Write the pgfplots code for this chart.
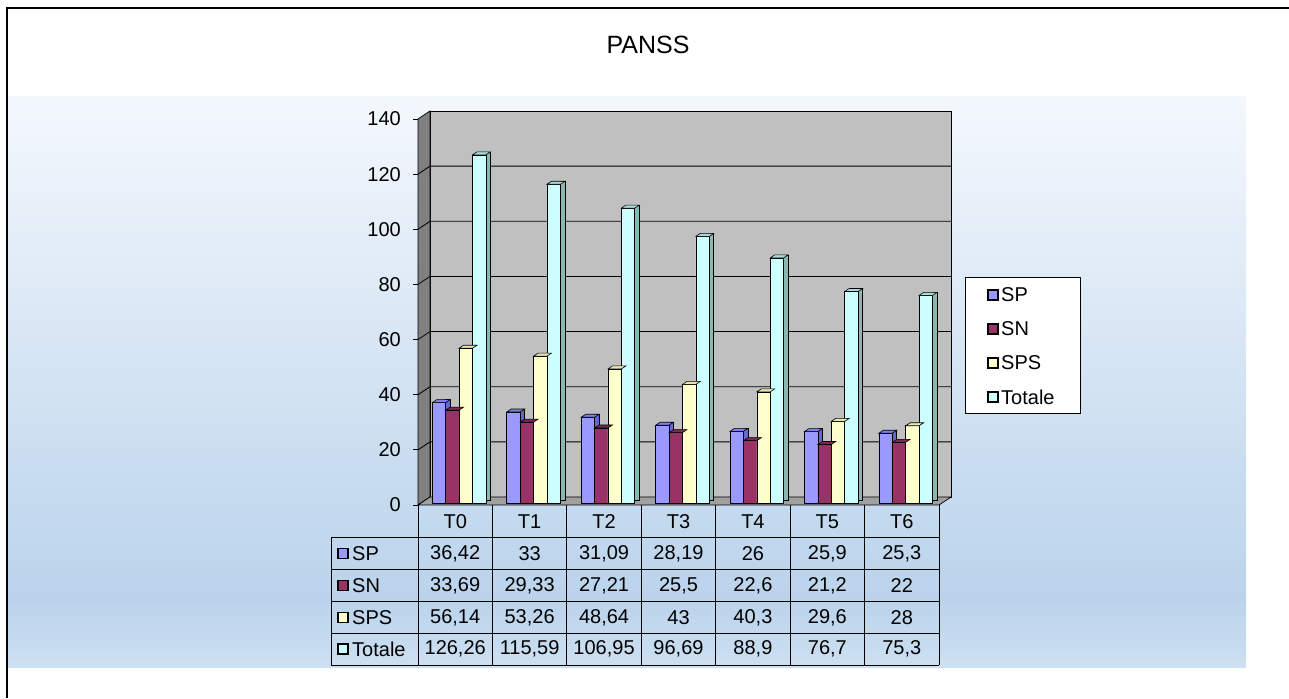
\documentclass[border=0pt]{standalone}
\usepackage{pgfplots}
\pgfplotsset{compat=1.18}
\usepackage{pgfplotstable}
\usepackage{fontspec}
\setmainfont{Liberation Sans}

\definecolor{spF}{HTML}{9999FF}\definecolor{spS}{HTML}{6666CC}\definecolor{spT}{HTML}{8080E6}
\definecolor{snF}{HTML}{993366}\definecolor{snS}{HTML}{662244}\definecolor{snT}{HTML}{7A2952}
\definecolor{psF}{HTML}{FFFFCC}\definecolor{psS}{HTML}{CCCC99}\definecolor{psT}{HTML}{E6E6B0}
\definecolor{toF}{HTML}{CCFFFF}\definecolor{toS}{HTML}{88B8B0}\definecolor{toT}{HTML}{A8DCD8}
\definecolor{bgtop}{HTML}{F4F8FD}\definecolor{bgmid}{HTML}{BAD3EB}\definecolor{bgbot}{HTML}{CEE0F2}
\definecolor{wall}{HTML}{C0C0C0}\definecolor{lwall}{HTML}{808080}\definecolor{floorc}{HTML}{A0A0A0}

\pgfplotstableread{
x SP SN SPS Tot
0 36.42 33.69 56.14 126.26
1 33 29.33 53.26 115.59
2 31.09 27.21 48.64 106.95
3 28.19 25.5 43 96.69
4 26 22.6 40.3 88.9
5 25.9 21.2 29.6 76.7
6 25.3 22 28 75.3
}\panss

\pgfdeclareplotmark{topface}{%
  \pgfpathmoveto{\pgfqpoint{-6.7pt}{0pt}}%
  \pgfpathlineto{\pgfqpoint{6.7pt}{0pt}}%
  \pgfpathlineto{\pgfqpoint{11.2pt}{3pt}}%
  \pgfpathlineto{\pgfqpoint{-2.2pt}{3pt}}%
  \pgfpathclose
  \pgfusepathqfillstroke}

\newcommand{\tfont}{\fontsize{20}{22}\selectfont}

\begin{document}
\begin{tikzpicture}
\path[use as bounding box] (0,0) rectangle (1289pt,698pt);
\begin{scope}[x=1pt,y=-1pt,shift={(0pt,698pt)}]
  % background panel
  \fill[top color=bgtop, bottom color=bgmid] (8,97) rectangle (1246,600.5);
  \fill[top color=bgmid, bottom color=bgbot] (8,600) rectangle (1246,668);
  % frame
  \draw[line width=1.6pt] (7,698) -- (7,8) -- (1289,8);
  % title
  \node[font=\fontsize{25}{28}\selectfont] at (648,45) {PANSS};
  % walls
  \filldraw[fill=wall, draw=black, line width=0.7pt] (430,111) rectangle (951,497);
  \filldraw[fill=lwall, draw=black, line width=0.7pt] (418,505) -- (418,119) -- (430,111) -- (430,497) -- cycle;
  \filldraw[fill=floorc, draw=black, line width=0.7pt] (418,505) -- (939,505) -- (951,497) -- (430,497) -- cycle;
  \foreach \v in {20,40,...,120} {
    \draw[black, line width=0.8pt] (418,{505-\v*2.757143}) -- (430,{497-\v*2.757143}) -- (951,{497-\v*2.757143});
  }
\end{scope}

\begin{axis}[
  at={(418pt,193pt)}, anchor=south west,
  scale only axis, width=521pt, height=386pt,
  xmin=-0.5, xmax=6.5, ymin=0, ymax=140,
  clip=false,
  axis line style={draw=none},
  xtick=\empty,
  ytick={0,20,...,140},
  ytick pos=left,
  tick align=outside,
  major tick length=5pt,
  tick style={black, line width=0.8pt},
  /pgf/number format/assume math mode=true,
  yticklabel style={font=\fontsize{20}{22}\selectfont, inner sep=0pt, xshift=-12pt},
]
% SP
\addplot[ybar, bar width=4.5pt, bar shift=-7.25pt, yshift=5pt, fill=spS, draw=black, line width=0.6pt] table[x=x,y=SP]{\panss};
\addplot[ybar, bar width=13.4pt, bar shift=-16.2pt, yshift=2pt, fill=spF, draw=black, line width=0.6pt] table[x=x,y=SP]{\panss};
\addplot[only marks, mark=topface, xshift=-16.2pt, yshift=2pt, mark options={fill=spT, draw=black, line width=0.6pt}] table[x=x,y=SP]{\panss};
% SN
\addplot[ybar, bar width=4.5pt, bar shift=6.15pt, yshift=5pt, fill=snS, draw=black, line width=0.6pt] table[x=x,y=SN]{\panss};
\addplot[ybar, bar width=13.4pt, bar shift=-2.8pt, yshift=2pt, fill=snF, draw=black, line width=0.6pt] table[x=x,y=SN]{\panss};
\addplot[only marks, mark=topface, xshift=-2.8pt, yshift=2pt, mark options={fill=snT, draw=black, line width=0.6pt}] table[x=x,y=SN]{\panss};
% SPS
\addplot[ybar, bar width=4.5pt, bar shift=19.55pt, yshift=5pt, fill=psS, draw=black, line width=0.6pt] table[x=x,y=SPS]{\panss};
\addplot[ybar, bar width=13.4pt, bar shift=10.6pt, yshift=2pt, fill=psF, draw=black, line width=0.6pt] table[x=x,y=SPS]{\panss};
\addplot[only marks, mark=topface, xshift=10.6pt, yshift=2pt, mark options={fill=psT, draw=black, line width=0.6pt}] table[x=x,y=SPS]{\panss};
% Totale
\addplot[ybar, bar width=4.5pt, bar shift=32.95pt, yshift=5pt, fill=toS, draw=black, line width=0.6pt] table[x=x,y=Tot]{\panss};
\addplot[ybar, bar width=13.4pt, bar shift=24pt, yshift=2pt, fill=toF, draw=black, line width=0.6pt] table[x=x,y=Tot]{\panss};
\addplot[only marks, mark=topface, xshift=24pt, yshift=2pt, mark options={fill=toT, draw=black, line width=0.6pt}] table[x=x,y=Tot]{\panss};
\end{axis}

\begin{scope}[x=1pt,y=-1pt,shift={(0pt,698pt)}]
  % data table
  \def\cw{74.43}
  \foreach \yy in {537.8,569.6,601.4,633.2,665} {\draw[black, line width=0.8pt] (331,\yy) -- (939,\yy);}
  \draw[black, line width=0.8pt] (331,537.8) -- (331,665);
  \foreach \k in {0,...,7} {\draw[black, line width=0.8pt] ({418+\k*\cw},505) -- ({418+\k*\cw},665);}
  \foreach \k/\lab in {0/T0,1/T1,2/T2,3/T3,4/T4,5/T5,6/T6} {
    \node[font=\tfont, inner sep=0pt] at ({418+(\k+0.5)*\cw},522) {\lab};
  }
  \foreach \yc/\nm/\col in {553.7/SP/spF, 585.5/SN/snF, 617.3/SPS/psF, 649.1/Totale/toF} {
    \filldraw[fill=\col, draw=black, line width=1.2pt] (338,\yc-5) rectangle (348,\yc+5);
    \node[font=\tfont, inner sep=0pt, anchor=west] at (352,\yc) {\nm};
  }
  \foreach \k/\v in {0/{36,42},1/{33},2/{31,09},3/{28,19},4/{26},5/{25,9},6/{25,3}} {\node[font=\tfont, inner sep=0pt] at ({418+(\k+0.5)*\cw},553.7) {\v};}
  \foreach \k/\v in {0/{33,69},1/{29,33},2/{27,21},3/{25,5},4/{22,6},5/{21,2},6/{22}} {\node[font=\tfont, inner sep=0pt] at ({418+(\k+0.5)*\cw},585.5) {\v};}
  \foreach \k/\v in {0/{56,14},1/{53,26},2/{48,64},3/{43},4/{40,3},5/{29,6},6/{28}} {\node[font=\tfont, inner sep=0pt] at ({418+(\k+0.5)*\cw},617.3) {\v};}
  \foreach \k/\v in {0/{126,26},1/{115,59},2/{106,95},3/{96,69},4/{88,9},5/{76,7},6/{75,3}} {\node[font=\tfont, inner sep=0pt] at ({418+(\k+0.5)*\cw},649.1) {\v};}
  % legend
  \filldraw[fill=white, draw=black, line width=0.8pt] (965,277) rectangle (1080,413);
  \foreach \yc/\nm/\col in {295/SP/spF, 329/SN/snF, 363/SPS/psF, 397/Totale/toF} {
    \filldraw[fill=\col, draw=black, line width=1.2pt] (988,\yc-5) rectangle (998,\yc+5);
    \node[font=\tfont, inner sep=0pt, anchor=west] at (1001,\yc) {\nm};
  }
\end{scope}
\end{tikzpicture}
\end{document}
